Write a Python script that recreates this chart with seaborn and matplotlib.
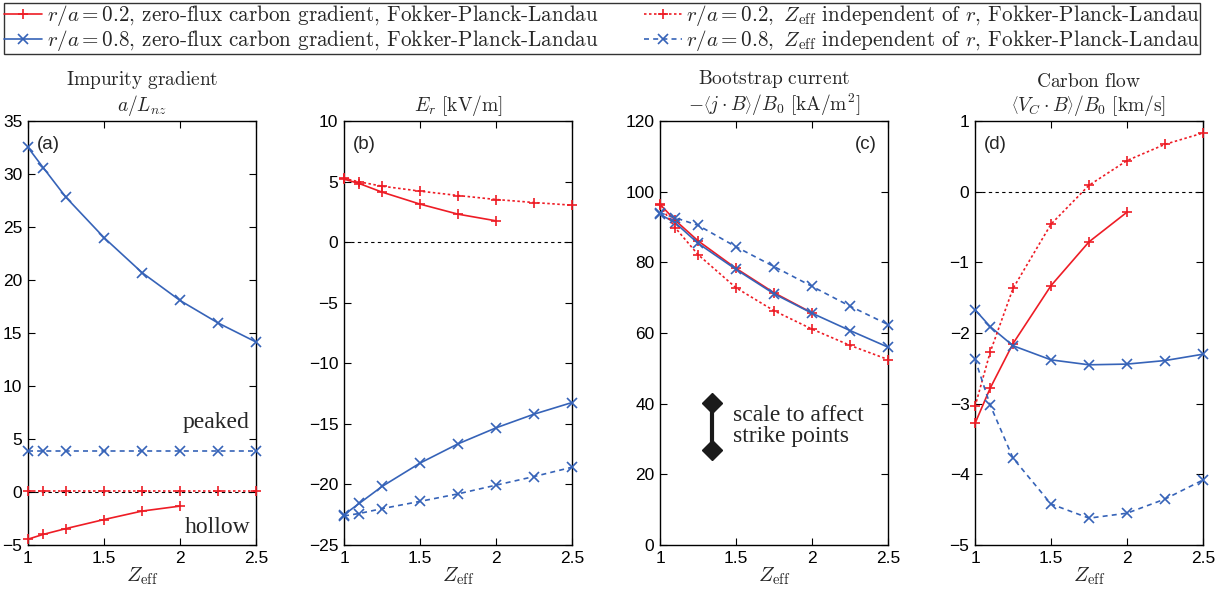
import numpy as np
import pandas as pd
import matplotlib
matplotlib.use("Agg")
import matplotlib.pyplot as plt
import seaborn as sns

# ---------------- data ----------------
zeff_full = [1.0, 1.1, 1.25, 1.5, 1.75, 2.0, 2.25, 2.5]
zeff_short = [1.0, 1.1, 1.25, 1.5, 1.75, 2.0]

# (a) impurity gradient a/L_nz
a_r02_zf = [-4.45, -4.0, -3.45, -2.6, -1.8, -1.33]
a_r08_zf = [32.5, 30.6, 27.8, 24.0, 20.7, 18.07, 15.95, 14.15]
a_r02_ind = [0.05, 0.05, 0.05, 0.05, 0.05, 0.05, 0.05, 0.05]
a_r08_ind = [3.9, 3.9, 3.9, 3.9, 3.9, 3.9, 3.9, 3.9]

# (b) E_r [kV/m]
b_r02_zf = [5.2, 4.84, 4.13, 3.14, 2.31, 1.76]
b_r08_zf = [-22.5, -21.57, -20.17, -18.24, -16.65, -15.33, -14.2, -13.24]
b_r02_ind = [5.26, 4.98, 4.62, 4.21, 3.85, 3.52, 3.27, 3.05]
b_r08_ind = [-22.6, -22.4, -22.0, -21.4, -20.78, -20.06, -19.35, -18.58]

# (c) bootstrap current [kA/m^2]
c_r02_zf = [96.4, 91.9, 86.1, 78.3, 71.4, 65.7]
c_r08_zf = [93.6, 91.2, 85.4, 78.0, 71.1, 65.6, 60.7, 56.0]
c_r02_ind = [96.1, 89.8, 82.2, 72.8, 66.3, 61.1, 56.5, 52.5]
c_r08_ind = [94.0, 92.6, 90.5, 84.4, 78.8, 73.2, 67.6, 62.4]

# (d) carbon flow [km/s]
d_r02_zf = [-3.28, -2.78, -2.15, -1.33, -0.71, -0.29]
d_r08_zf = [-1.67, -1.91, -2.18, -2.38, -2.45, -2.44, -2.39, -2.30]
d_r02_ind = [-3.04, -2.27, -1.37, -0.46, 0.09, 0.44, 0.67, 0.83]
d_r08_ind = [-2.37, -3.02, -3.77, -4.42, -4.62, -4.55, -4.35, -4.08]

labels = [
    r"$r/a = 0.2$, zero-flux carbon gradient, Fokker-Planck-Landau",
    r"$r/a = 0.8$, zero-flux carbon gradient, Fokker-Planck-Landau",
    r"$r/a = 0.2,\ Z_{\rm eff}$ independent of $r$, Fokker-Planck-Landau",
    r"$r/a = 0.8,\ Z_{\rm eff}$ independent of $r$, Fokker-Planck-Landau",
]

titles = [
    r"$\mathrm{Impurity\ gradient}$" + "\n" + r"$a/L_{nz}$",
    r"$E_r\ [\mathrm{kV/m}]$",
    r"$\mathrm{Bootstrap\ current}$" + "\n" + r"$-\left\langle j\cdot B\right\rangle/B_0\ [\mathrm{kA/m}^2]$",
    r"$\mathrm{Carbon\ flow}$" + "\n" + r"$\left\langle V_C\cdot B\right\rangle/B_0\ [\mathrm{km/s}]$",
]
panel_tags = ["(a)", "(b)", "(c)", "(d)"]
ylims = [(-5, 35), (-25, 10), (0, 120), (-5, 1)]
ysteps = [5, 5, 20, 1]

panels = [
    (a_r02_zf, a_r08_zf, a_r02_ind, a_r08_ind),
    (b_r02_zf, b_r08_zf, b_r02_ind, b_r08_ind),
    (c_r02_zf, c_r08_zf, c_r02_ind, c_r08_ind),
    (d_r02_zf, d_r08_zf, d_r02_ind, d_r08_ind),
]

# ---------------- style ----------------
sns.set_theme(style="ticks")
plt.rcParams["font.family"] = ["Liberation Sans", "DejaVu Sans"]
plt.rcParams["mathtext.fontset"] = "cm"
plt.rcParams["xtick.direction"] = "in"
plt.rcParams["ytick.direction"] = "in"
plt.rcParams["xtick.top"] = True
plt.rcParams["ytick.right"] = True

RED = "#ee1c25"
BLUE = "#3663b8"
series_style = [
    dict(color=RED, marker="+", linestyle="-"),
    dict(color=BLUE, marker="x", linestyle="-"),
    dict(color=RED, marker="+", linestyle=(0, (1.5, 1.5))),
    dict(color=BLUE, marker="x", linestyle=(0, (3, 2.5))),
]

W, H = 1222, 615
fig = plt.figure(figsize=(W / 100, H / 100), dpi=100)
lefts = [28, 344, 660, 975]
axw = 228
bottom, top = 545, 121

axes = []
for i, left in enumerate(lefts):
    ax = fig.add_axes([left / W, 1 - bottom / H, axw / W, (bottom - top) / H])
    axes.append(ax)
    vals = panels[i]
    if i in (0, 1, 3):
        ax.axhline(0, color="black", lw=0.8, linestyle=(0, (3, 3)), zorder=1)
    for k, yv in enumerate(vals):
        xs = zeff_short if len(yv) == len(zeff_short) else zeff_full
        df = pd.DataFrame({"Zeff": xs, "val": yv})
        st = series_style[k]
        sns.lineplot(data=df, x="Zeff", y="val", ax=ax, color=st["color"],
                     marker=st["marker"], linestyle=st["linestyle"], lw=1.2,
                     markersize=6.5, markeredgewidth=1.2,
                     markeredgecolor=st["color"], label=labels[k],
                     legend=False, zorder=3, clip_on=False)
    ax.set_xlim(1, 2.5)
    ax.set_ylim(*ylims[i])
    ax.set_xticks([1, 1.5, 2, 2.5])
    ax.set_xticklabels(["1", "1.5", "2", "2.5"])
    ax.set_yticks(np.arange(ylims[i][0], ylims[i][1] + 0.001, ysteps[i]))
    ax.tick_params(labelsize=12.5, length=5, width=0.8, colors="black", pad=4)
    for sp in ax.spines.values():
        sp.set_color("black")
        sp.set_linewidth(1.0)
    ax.set_xlabel(r"$Z_{\rm eff}$", fontsize=15, labelpad=0)
    ax.set_ylabel("")
    ax.set_title(titles[i], fontsize=14, pad=7, linespacing=1.1)
    if i == 2:
        ax.text(0.95, 0.965, panel_tags[i], transform=ax.transAxes, ha="right", va="top", fontsize=13.5)
    else:
        ax.text(0.04, 0.965, panel_tags[i], transform=ax.transAxes, ha="left", va="top", fontsize=13.5)

# annotations
axes[0].text(2.46, 6.6, "peaked", ha="right", va="center", fontsize=17, family="Liberation Serif")
axes[0].text(2.46, -3.35, "hollow", ha="right", va="center", fontsize=17, family="Liberation Serif")

scale_x = [1.34, 1.34]
scale_y = [40.2, 26.9]
axes[2].plot(scale_x, scale_y, color="#1a1a1a", lw=3, marker="D", markersize=10, zorder=4)
axes[2].text(1.48, 33.6, "scale to affect\nstrike points", ha="left", va="center",
             fontsize=17, family="Liberation Serif", linespacing=1.0)

# legend
handles, labs = axes[0].get_legend_handles_labels()
leg = fig.legend(handles, labs, loc="upper left", ncol=2, mode="expand",
                 bbox_to_anchor=(4 / W, 1 - 57 / H, 1196 / W, 54 / H),
                 borderaxespad=0, frameon=True, fancybox=False, edgecolor="black",
                 prop={"family": ["cmr10", "DejaVu Serif"], "size": 15.2},
                 handlelength=1.8, handletextpad=0.2, borderpad=0.02,
                 labelspacing=0.0, columnspacing=1.0)
leg.get_frame().set_linewidth(1.0)

fig.savefig("out.png", dpi=100)
